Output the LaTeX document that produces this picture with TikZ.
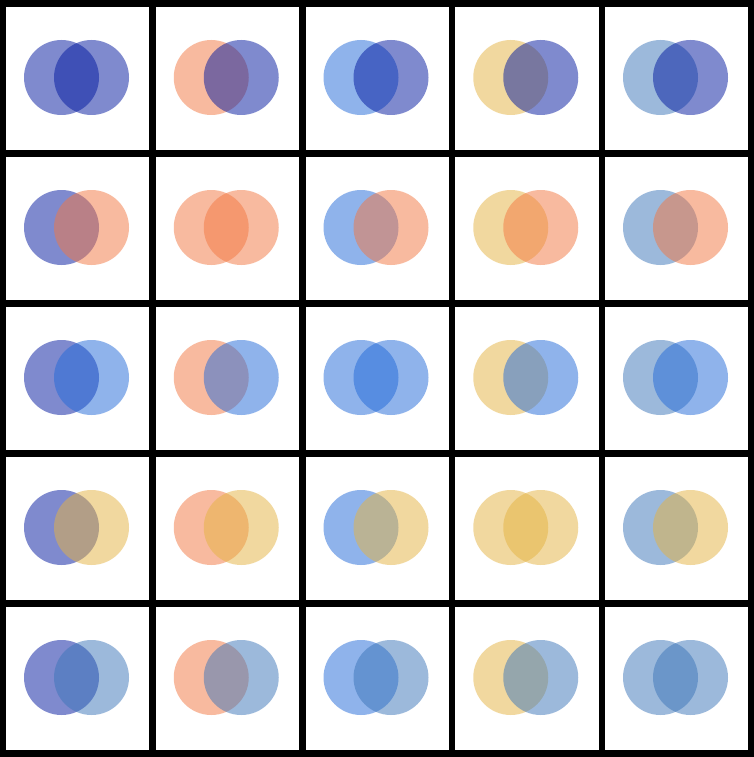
\documentclass[tikz,border=0pt]{standalone}
\definecolor{vindigo}{RGB}{0,23,159}
\definecolor{vsalmon}{RGB}{243,119,65}
\definecolor{vcorn}{RGB}{33,105,217}
\definecolor{vgold}{RGB}{229,179,65}
\definecolor{vsteel}{RGB}{59,117,185}
\begin{document}
\begin{tikzpicture}[x=1pt,y=-1pt]
    \useasboundingbox (0,0) rectangle (754,757);
    \fill[white] (0,0) rectangle (754,757);
    % left circle by column, right circle by row
    \foreach \r/\rc in {0/vindigo,1/vsalmon,2/vcorn,3/vgold,4/vsteel}
      \foreach \c/\cc in {0/vindigo,1/vsalmon,2/vcorn,3/vgold,4/vsteel} {
        \fill[\cc,fill opacity=.5] (61.5+149.75*\c,77.5+150*\r) circle[radius=37.5pt];
        \fill[\rc,fill opacity=.5] (91.5+149.75*\c,77.5+150*\r) circle[radius=37.5pt];
      }
    \foreach \i in {0,...,5} {
      \draw[line width=6.5pt] (2.75+149.75*\i,0) -- (2.75+149.75*\i,757);
      \draw[line width=7pt] (0,3.5+150*\i) -- (754,3.5+150*\i);
    }
  \end{tikzpicture}
\end{document}
